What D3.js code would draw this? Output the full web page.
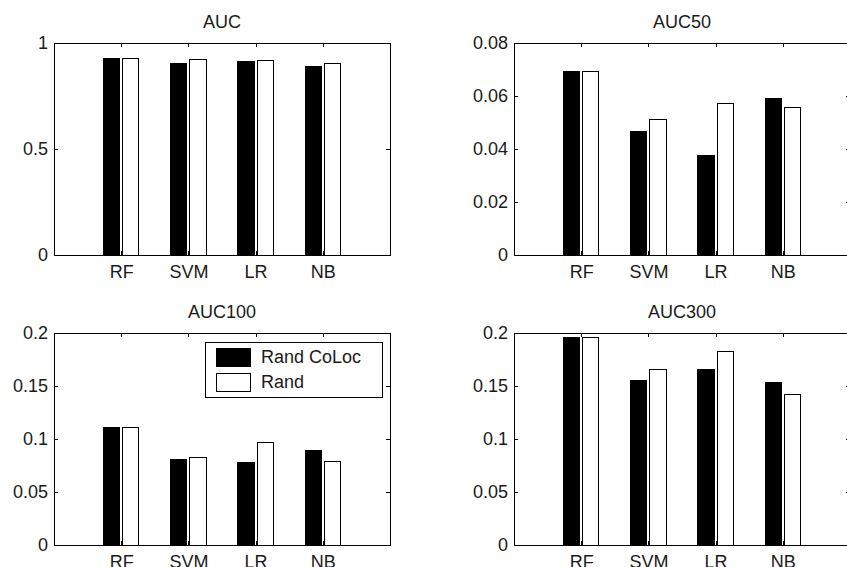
<!DOCTYPE html>
<html lang="en">
<head>
    <meta charset="UTF-8">
    <title>AUC comparison</title>
    <style>
        body {
            margin: 0;
            background: #fff;
            overflow: hidden;
        }

        svg {
            display: block;
        }

        svg text {
            font-family: 'Liberation Sans', Arial, Helvetica, sans-serif;
            font-size: 18px;
            fill: #1a1a1a;
        }

        .axis path,
        .axis line {
            stroke: #000;
            shape-rendering: crispEdges;
        }

        .bar {
            stroke: #000;
            stroke-width: 1;
            shape-rendering: crispEdges;
        }
    </style>
    <script src="https://d3js.org/d3.v7.min.js"></script>
</head>
<body>
    <div id="chart"></div>
    <script>
        const width = 847;
        const height = 567;

        const categories = ["RF", "SVM", "LR", "NB"];
        const seriesNames = ["Rand CoLoc", "Rand"];

        const aucColoc = [0.926, 0.904, 0.912, 0.890];
        const aucRand = [0.925, 0.923, 0.917, 0.904];
        const auc50Coloc = [0.0691, 0.0465, 0.0376, 0.0589];
        const auc50Rand = [0.0694, 0.0511, 0.0571, 0.0555];
        const auc100Coloc = [0.111, 0.0804, 0.0776, 0.0890];
        const auc100Rand = [0.111, 0.0830, 0.0968, 0.0785];
        const auc300Coloc = [0.1953, 0.1549, 0.1659, 0.1533];
        const auc300Rand = [0.1962, 0.1656, 0.1826, 0.1420];

        const aucTicks = [0, 0.5, 1];
        const aucTickLabels = ["0", "0.5", "1"];
        const auc50Ticks = [0, 0.02, 0.04, 0.06, 0.08];
        const auc50TickLabels = ["0", "0.02", "0.04", "0.06", "0.08"];
        const auc100Ticks = [0, 0.05, 0.1, 0.15, 0.2];
        const auc100TickLabels = ["0", "0.05", "0.1", "0.15", "0.2"];

        const panels = [
            { title: "AUC", coloc: aucColoc, rand: aucRand, max: 1, ticks: aucTicks, labels: aucTickLabels, left: 54, top: 43 },
            { title: "AUC50", coloc: auc50Coloc, rand: auc50Rand, max: 0.08, ticks: auc50Ticks, labels: auc50TickLabels, left: 514, top: 43 },
            { title: "AUC100", coloc: auc100Coloc, rand: auc100Rand, max: 0.2, ticks: auc100Ticks, labels: auc100TickLabels, left: 54, top: 333, legend: true },
            { title: "AUC300", coloc: auc300Coloc, rand: auc300Rand, max: 0.2, ticks: auc100Ticks, labels: auc100TickLabels, left: 514, top: 333 }
        ];

        const pw = 336;
        const ph = 212;

        const svg = d3.select("#chart").append("svg")
            .attr("width", width)
            .attr("height", height);

        panels.forEach(p => {
            const g = svg.append("g")
                .attr("transform", `translate(${p.left},${p.top})`);

            // categories sit at 1..4 on a 0..5 axis, like matlab's bar()
            const x = d3.scaleLinear().domain([0, 5]).range([0, pw]);
            const y = d3.scaleLinear().domain([0, p.max]).range([ph, 0]);
            const xt = categories.map((c, i) => i + 1);

            const barW = 0.24;
            const offsets = [-0.143, 0.143];
            const fills = ["#000", "#fff"];

            [p.coloc, p.rand].forEach((vals, s) => {
                g.selectAll(".bar-" + s)
                    .data(vals)
                    .enter().append("rect")
                    .attr("class", "bar bar-" + s)
                    .attr("x", (d, i) => x(i + 1 + offsets[s] - barW / 2))
                    .attr("width", x(barW) - x(0))
                    .attr("y", d => y(d))
                    .attr("height", d => y(0) - y(d))
                    .attr("fill", fills[s]);
            });

            // matlab style box: ticks pointing in on all four sides
            g.append("g").attr("class", "axis")
                .call(d3.axisLeft(y).tickValues(p.ticks)
                    .tickFormat((d, i) => p.labels[i])
                    .tickSizeInner(-4).tickSizeOuter(0).tickPadding(6))
                .call(a => a.selectAll("text").attr("font-size", null).attr("font-family", null));

            g.append("g").attr("class", "axis")
                .attr("transform", `translate(${pw},0)`)
                .call(d3.axisRight(y).tickValues(p.ticks).tickFormat("")
                    .tickSizeInner(-4).tickSizeOuter(0));

            g.append("g").attr("class", "axis")
                .attr("transform", `translate(0,${ph})`)
                .call(d3.axisBottom(x).tickValues(xt)
                    .tickFormat((d, i) => categories[i])
                    .tickSizeInner(-4).tickSizeOuter(0).tickPadding(10))
                .call(a => a.selectAll("text").attr("font-size", null).attr("font-family", null));

            g.append("g").attr("class", "axis")
                .call(d3.axisTop(x).tickValues(xt).tickFormat("")
                    .tickSizeInner(-4).tickSizeOuter(0));

            g.selectAll(".axis").attr("fill", null);

            g.append("text")
                .attr("x", pw / 2)
                .attr("y", -15)
                .attr("text-anchor", "middle")
                .text(p.title);

            if (p.legend) {
                const lg = g.append("g")
                    .attr("transform", `translate(${pw - 185},9)`);
                lg.append("rect")
                    .attr("width", 177)
                    .attr("height", 55)
                    .attr("fill", "#fff")
                    .attr("stroke", "#000")
                    .attr("shape-rendering", "crispEdges");
                seriesNames.forEach((name, i) => {
                    lg.append("rect")
                        .attr("class", "bar")
                        .attr("x", 11)
                        .attr("y", 6 + i * 25)
                        .attr("width", 34)
                        .attr("height", 18)
                        .attr("fill", fills[i]);
                    lg.append("text")
                        .attr("x", 56)
                        .attr("y", 15 + i * 25)
                        .attr("dy", "0.35em")
                        .text(name);
                });
            }
        });
    </script>
</body>
</html>
